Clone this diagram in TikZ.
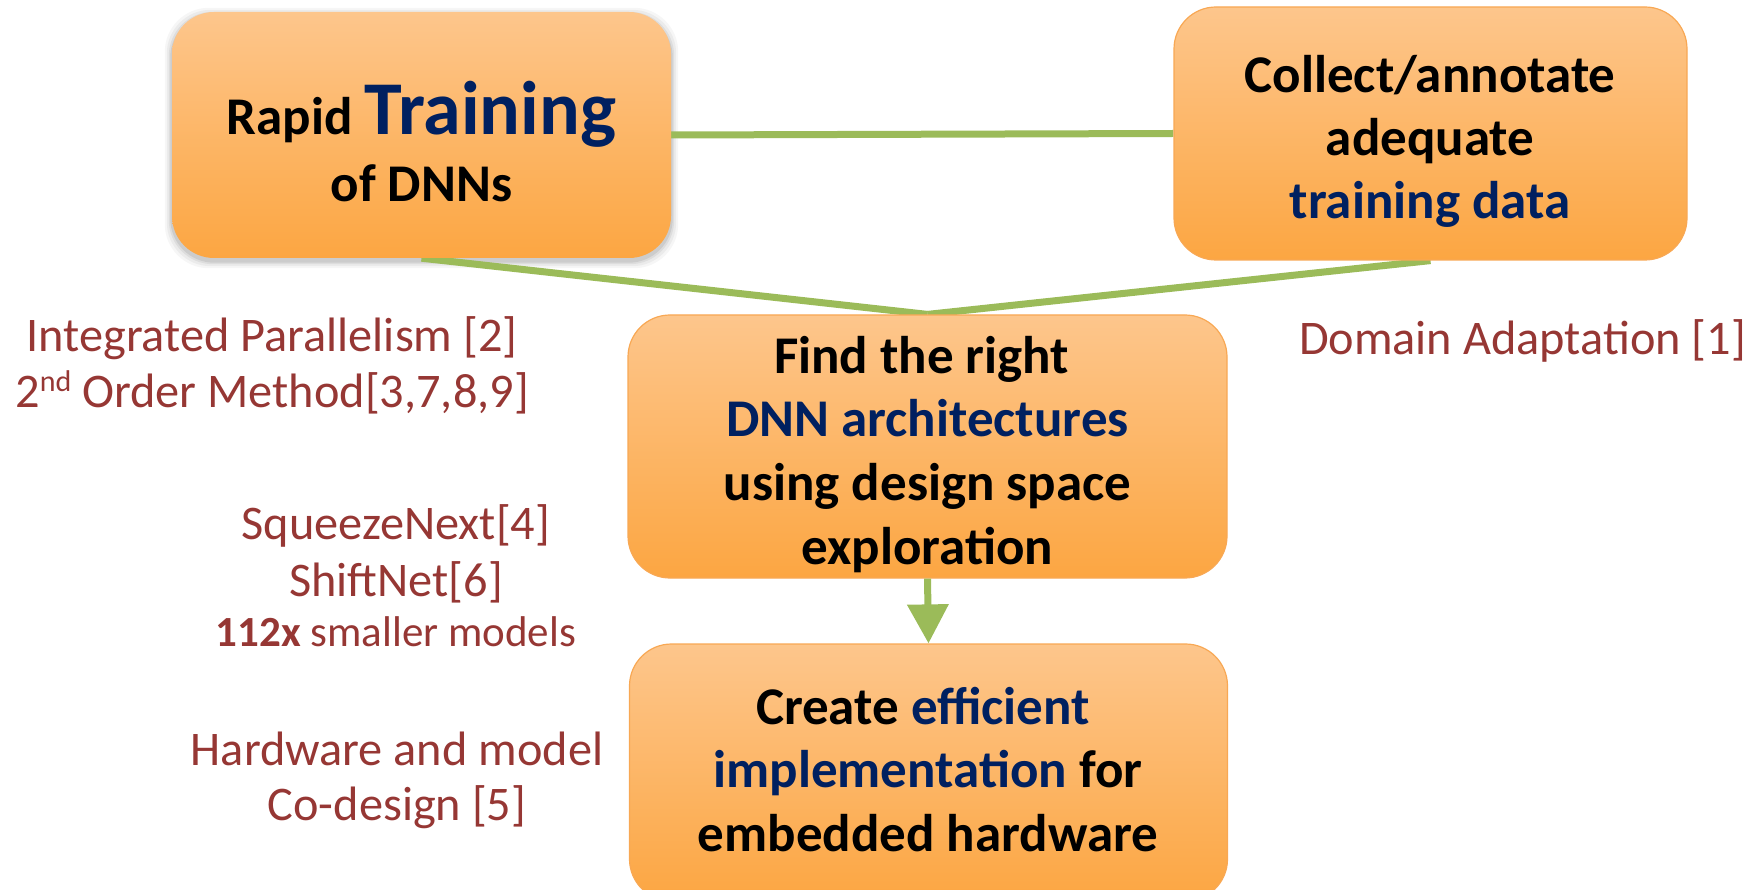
\documentclass[tikz,border=0pt]{standalone}
\usepackage{fontspec}
\setmainfont{Carlito}
\usetikzlibrary{arrows.meta,backgrounds}
\definecolor{dnnblue}{RGB}{0,32,96}
\definecolor{refred}{RGB}{150,55,52}
\definecolor{linegreen}{RGB}{155,187,89}
\definecolor{orangetop}{RGB}{253,198,140}
\definecolor{orangebot}{RGB}{252,166,66}
\definecolor{orangeedge}{RGB}{248,168,84}
\begin{document}
\begin{tikzpicture}[x=1pt,y=-1pt,
  box/.style={rectangle, rounded corners=42pt, top color=orangetop, bottom color=orangebot,
    inner sep=0pt},
  edged/.style={draw=orangeedge, line width=1.2pt},
  boxtext/.style={align=center, inner sep=0pt, font=\bfseries\fontsize{53}{63.7}\selectfont},
  side/.style={align=center, inner sep=0pt, text=refred, font=\fontsize{48.3}{56}\selectfont},
  conn/.style={draw=linegreen, line width=7pt},
  softshadow/.style={fill=black, rounded corners=44pt}]
\useasboundingbox (0,0) rectangle (1759,890);
\clip (0,0) rectangle (1759,890);
% boxes
\node[box, minimum width=499pt, minimum height=246pt] (boxA) at (421.5,135) {};
\node[box, edged, minimum width=513pt, minimum height=253pt] (boxB) at (1430.5,133.5) {};
\node[box, edged, minimum width=599pt, minimum height=263pt] (boxC) at (927.5,446.5) {};
\node[box, edged, minimum width=598pt, minimum height=257pt] (boxD) at (928.5,772.5) {};
% shadow of the first box and connectors
\begin{scope}[on background layer]
\foreach \e/\o in {7/0.035,5/0.045,3/0.06,1.5/0.08}
  \fill[softshadow, opacity=\o]
    ([xshift=-\e pt, yshift=-\e pt-3pt]boxA.south west) rectangle
    ([xshift=\e pt, yshift=\e pt-3pt]boxA.north east);
\draw[conn] (boxA.east) -- (boxB.west);
\draw[conn] (boxA.south) -- (boxC.north);
\draw[conn] (boxB.south) -- (boxC.north);
\end{scope}
\draw[conn, -{Triangle[length=39pt, width=40pt]}, color=linegreen] (boxC.south) -- (boxD.north);
% box texts
\node[boxtext, font=\bfseries\fontsize{53}{67}\selectfont] (txtA) at (421.5,142)
  {Rapid {\fontsize{76}{76}\selectfont\color{dnnblue}Training}\\of DNNs};
\node[boxtext, font=\bfseries\fontsize{53}{63}\selectfont] (txtB) at (1430,141.7)
  {Collect/annotate\\adequate\\\textcolor{dnnblue}{training data}};
\node[boxtext] (txtC) at (927.5,454.2)
  {Find the right\hspace*{12pt}\\\textcolor{dnnblue}{DNN architectures}\\using design space\\exploration};
\node[boxtext, font=\bfseries\fontsize{53}{63.5}\selectfont] (txtD) at (928,769.5)
  {Create \textcolor{dnnblue}{efficient}\hspace*{10pt}\\\textcolor{dnnblue}{implementation} for\\embedded hardware};
% side texts
\node[side] (sideA) at (272,365.7)
  {Integrated Parallelism [2]\\2\raisebox{16pt}{\fontsize{30}{30}\selectfont nd} Order Method[3,7,8,9]};
\node[side, font=\fontsize{48.3}{57}\selectfont] (sideB) at (396,575.7)
  {SqueezeNext[4]\\ShiftNet[6]\\[-7pt]{\fontsize{43}{43}\selectfont\textbf{112x} smaller models}};
\node[side, font=\fontsize{48.3}{55}\selectfont] (sideC) at (397,780.7)
  {Hardware and model\\Co-design [5]};
\node[side, anchor=base] (sideD) at (1522.5,355) {Domain Adaptation [1]};
\end{tikzpicture}
\end{document}
